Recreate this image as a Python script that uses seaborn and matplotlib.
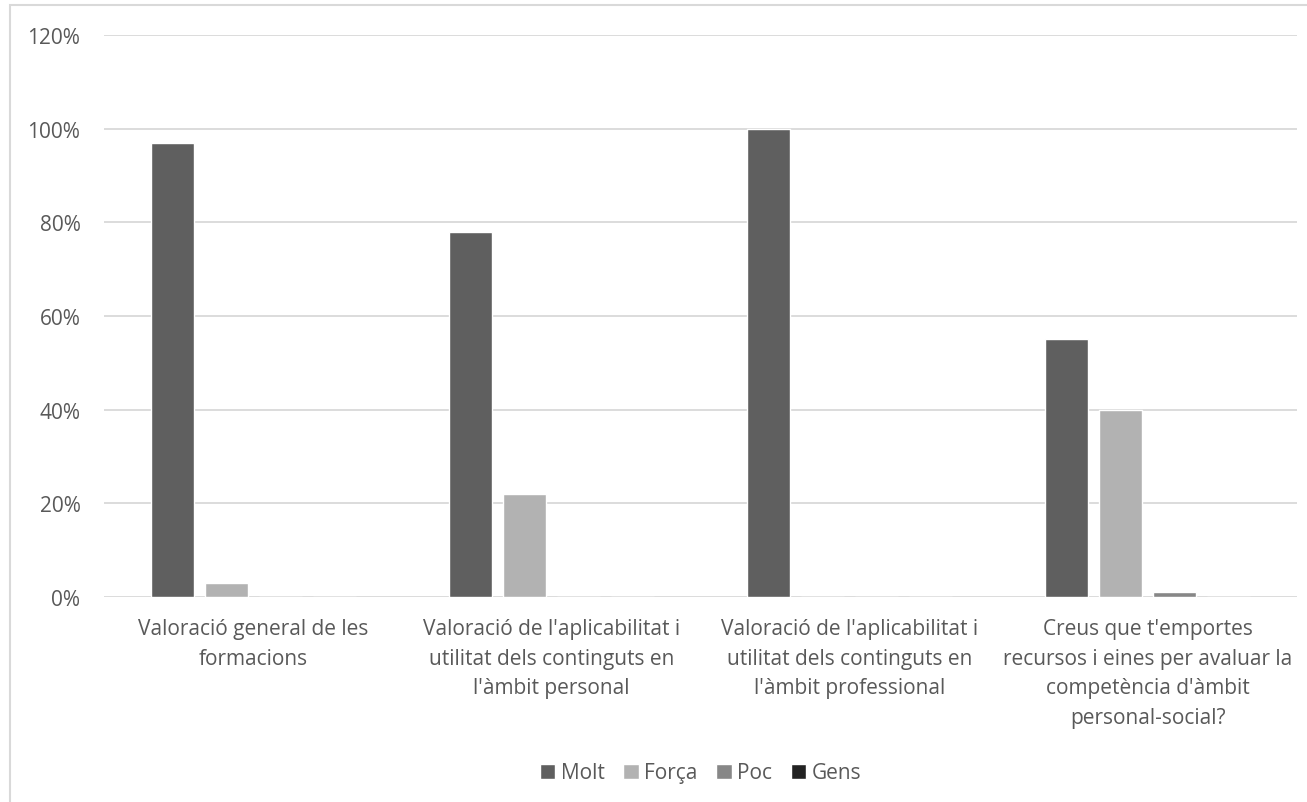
import pandas as pd
import matplotlib.pyplot as plt
import seaborn as sns
from matplotlib.patches import Rectangle
from matplotlib.ticker import FuncFormatter

categories = [
    "Valoració general de les\nformacions",
    "Valoració de l'aplicabilitat i\nutilitat dels continguts en\nl'àmbit personal",
    "Valoració de l'aplicabilitat i\nutilitat dels continguts en\nl'àmbit professional",
    "Creus que t'emportes\nrecursos i eines per avaluar la\ncompetència d'àmbit\npersonal-social?",
]
series = ["Molt", "Força", "Poc", "Gens"]
molt = [0.97, 0.78, 1.00, 0.55]
forca = [0.03, 0.22, 0.00, 0.40]
poc = [0.00, 0.00, 0.00, 0.01]
gens = [0.00, 0.00, 0.00, 0.00]
colors = ["#5f5f5f", "#b2b2b2", "#878787", "#222222"]

rows = []
for name, vals in zip(series, [molt, forca, poc, gens]):
    for cat, v in zip(categories, vals):
        rows.append({"Categoria": cat, "Resposta": name, "Valor": v})
df = pd.DataFrame(rows)

sns.set_style("white")
plt.rcParams["font.family"] = ["Open Sans", "DejaVu Sans"]

fig = plt.figure(figsize=(13.07, 8.03), dpi=100)
ax = fig.add_axes([104 / 1307, 1 - 598 / 803, (1297 - 104) / 1307, (598 - 36) / 803])

sns.barplot(data=df, x="Categoria", y="Valor", hue="Resposta", palette=colors,
            width=0.725, gap=0.204, saturation=1, ax=ax, legend=True)

ax.set_ylim(0, 1.2)
ax.set_xlim(-0.5, 3.5)
ax.set_yticks([0, 0.2, 0.4, 0.6, 0.8, 1.0, 1.2])
ax.yaxis.set_major_formatter(FuncFormatter(lambda v, p: f"{v * 100:.0f}%"))
ax.grid(axis="y", color="#d9d9d9", linewidth=1.3)
ax.set_axisbelow(True)
for s in ax.spines.values():
    s.set_visible(False)
ax.tick_params(axis="both", length=0, labelsize=15, labelcolor="#595959")
ax.tick_params(axis="y", pad=17)
ax.tick_params(axis="x", pad=15)
for lbl in ax.get_xticklabels():
    lbl.set_linespacing(1.55)
ax.set_xlabel("")
ax.set_ylabel("")

ax.legend(loc="center", bbox_to_anchor=(0.5, -0.313), ncol=4, frameon=False,
          fontsize=15, labelcolor="#595959", handlelength=0.75, handleheight=0.75,
          handletextpad=0.25, columnspacing=0.9)

fig.patches.append(Rectangle((10 / 1307, -0.01), 1.1, 1 - 6 / 803 + 0.01,
                             transform=fig.transFigure, fill=False,
                             edgecolor="#d9d9d9", linewidth=1.5))

fig.savefig("out.png", dpi=100)
